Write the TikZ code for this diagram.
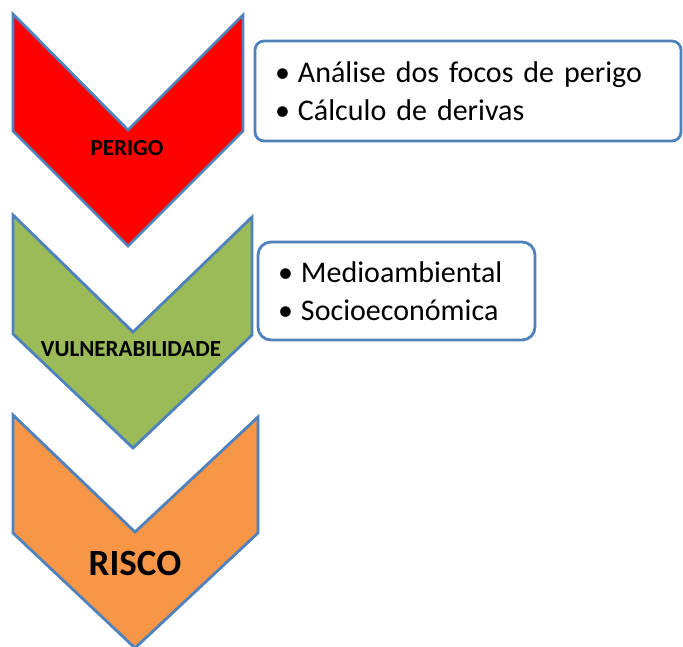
\documentclass[tikz,border=0pt]{standalone}
\usepackage{fontspec}
\setmainfont{Carlito}
\usepackage{tikz}
\usepackage{xcolor}
\usetikzlibrary{positioning}
\definecolor{edge}    {HTML}{4F81BD}
\definecolor{perigo}  {HTML}{FF0000}
\definecolor{vulner}  {HTML}{9BBB59}
\definecolor{risco}   {HTML}{F79646}
\newcommand{\bul}{\makebox[23pt][l]{\textbullet}}
\tikzset{
  chev/.style     ={draw=edge, line width=2.8pt, line join=miter},
  tag/.style      ={font=\fontsize{23}{27}\selectfont\bfseries, text=black, inner sep=0pt},
  bigtag/.style   ={tag, font=\fontsize{37}{42}\selectfont\bfseries},
  listbox/.style  ={draw=edge, fill=white, line width=2.8pt, rounded corners=9pt,
                    align=left, inner xsep=20pt, inner ysep=0pt,
                    font=\fontsize{30}{38}\selectfont},
}
\begin{document}
\begin{tikzpicture}[x=1pt,y=-1pt]
  \useasboundingbox (0,0) rectangle (683,646);

  \draw[chev, fill=perigo] (13,14) -- (128,130) -- (243,15) -- (243,131)
        -- (128,246) -- (13,131) -- cycle;
  \draw[chev, fill=vulner] (13,215) -- (133,332) -- (252,217) -- (252,335)
        -- (133,448) -- (13,334) -- cycle;
  \draw[chev, fill=risco] (13,415) -- (135,532) -- (258,417) -- (258,533)
        -- (135,648) -- (13,533) -- cycle;

  \node[tag] (perigotxt) at (127,148) {PERIGO};
  \node[tag] (vulnertxt) at (131,349) {VULNERABILIDADE};
  \node[bigtag] (riscotxt) at (135,563) {RISCO};

  \node[listbox, text width=386pt, minimum height=100pt] (focos) at (468,91)
    {\bul An\'alise dos focos de perigo\\ \bul C\'alculo de derivas};
  \node[listbox, text width=237pt, minimum height=98pt, rounded corners=13pt] (ambito) at (396.5,291)
    {\bul Medioambiental\\ \bul Socioecon\'omica};
\end{tikzpicture}
\end{document}
